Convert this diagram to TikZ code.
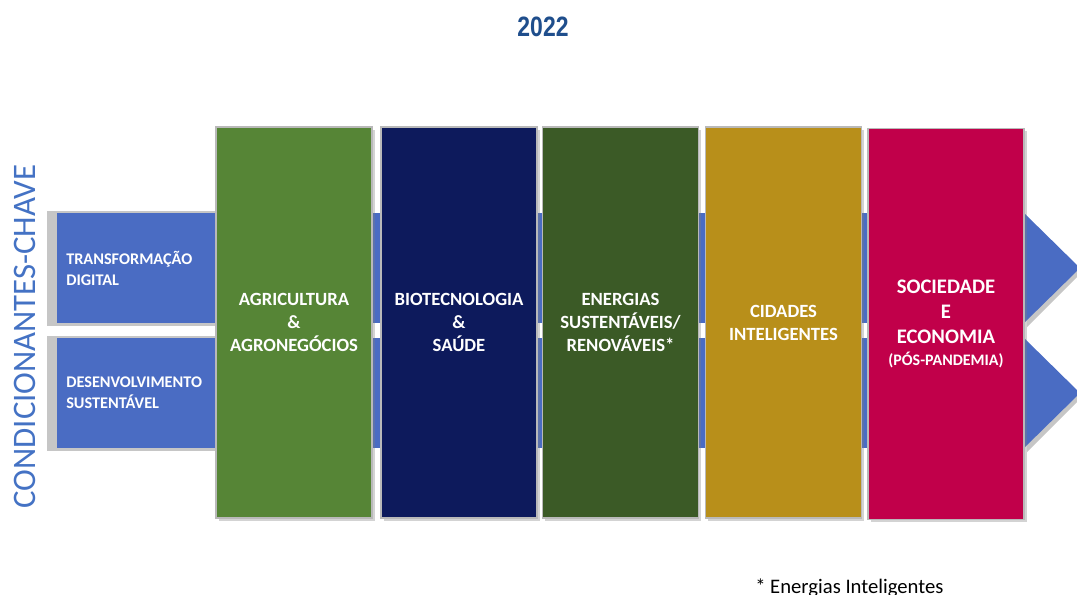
\documentclass[tikz,border=0pt]{standalone}
\usepackage{fontspec}
\setmainfont{Carlito}
\newfontfamily\yearfont{Liberation Sans}
\usetikzlibrary{shadows}
\definecolor{bandblue}{HTML}{4A6CC3}
\definecolor{titleblue}{HTML}{1F4E8C}
\definecolor{condblue}{HTML}{4472C4}
\definecolor{agrigreen}{HTML}{568536}
\definecolor{bionavy}{HTML}{0D1A5C}
\definecolor{energygreen}{HTML}{3B5A26}
\definecolor{citygold}{HTML}{B88F1A}
\definecolor{socred}{HTML}{C1004A}

\tikzset{
  pillar/.style={draw=gray!55, line width=0.9pt, minimum width=117pt, minimum height=293.25pt,
    inner sep=0pt, align=center, text=white, font=\bfseries\fontsize{14}{17.25}\selectfont,
    drop shadow={opacity=0.35, shadow xshift=2pt, shadow yshift=-2pt}},
  bandlabel/.style={anchor=west, align=left, text=white, inner sep=0pt,
    font=\bfseries\fontsize{12.2}{15.75}\selectfont},
  band/.style={fill=bandblue},
  bandshadow/.style={fill=gray!45},
}

\begin{document}
\begin{tikzpicture}[x=0.75pt,y=0.75pt,yscale=-1,xscale=1]
\useasboundingbox (0,0) rectangle (1077,594);
% title
\node [text=titleblue, font=\yearfont\bfseries\fontsize{21}{24}\selectfont, xscale=0.82] (year) at (543,27) {2022};
\node [rotate=90, text=condblue, font=\fontsize{24.6}{30}\selectfont, inner sep=0pt] (cond) at (25,336.5) {CONDICIONANTES-CHAVE};
% bands with shadows
\fill [bandshadow] (47,211) rectangle (220,326);
\fill [bandshadow] (47,336) rectangle (220,451);
\fill [bandshadow] (1027,217) -- (1082,272) -- (1027,327) -- cycle;
\fill [bandshadow] (1027,342) -- (1082,397) -- (1027,452) -- cycle;
\fill [band] (57,213) rectangle (1025,323);
\fill [band] (57,338) rectangle (1025,448);
\fill [band] (1024,213) -- (1080,268) -- (1024,323) -- cycle;
\fill [band] (1024,338) -- (1080,393) -- (1024,448) -- cycle;
\node [bandlabel] (digital) at (66,268) {TRANSFORMAÇÃO\\DIGITAL};
\node [bandlabel] (sust) at (66,393) {DESENVOLVIMENTO\\SUSTENTÁVEL};
% pillars
\node [pillar, fill=agrigreen] (agri) at (294,322.5) {AGRICULTURA\\\&\\AGRONEGÓCIOS};
\node [pillar, fill=bionavy] (bio) at (459,322.5) {BIOTECNOLOGIA\\\&\\SAÚDE};
\node [pillar, fill=energygreen] (energy) at (620.5,322.5) {ENERGIAS\\SUSTENTÁVEIS/\\RENOVÁVEIS*};
\node [pillar, fill=citygold] (city) at (783.5,322.5) {CIDADES\\INTELIGENTES};
\node [pillar, fill=socred, font=\bfseries\fontsize{15.5}{18.75}\selectfont] (soc) at (946,324)
  {SOCIEDADE\\E\\ECONOMIA\\[-2pt]{\fontsize{12}{14}\selectfont(PÓS-PANDEMIA)}};
% note
\node [anchor=base west, inner sep=0pt, font=\fontsize{15.5}{18}\selectfont] (note) at (755,593) {* Energias Inteligentes};
\end{tikzpicture}
\end{document}
